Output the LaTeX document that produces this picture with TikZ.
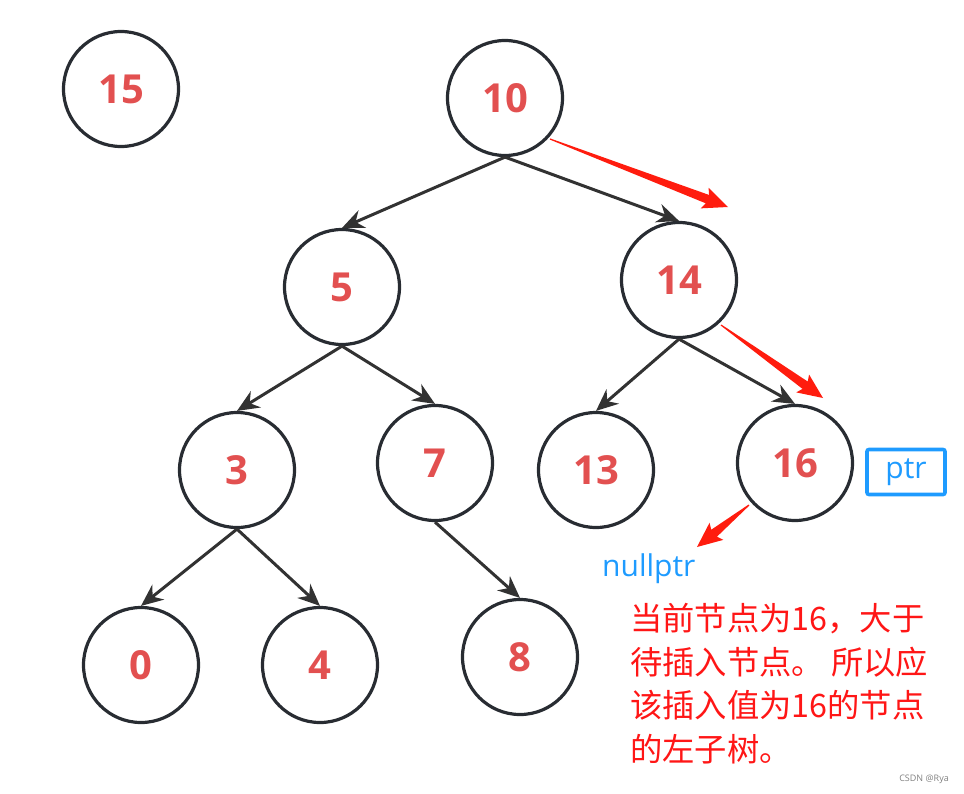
\documentclass[tikz,border=0pt]{standalone}
\usepackage{fontspec}
\setmainfont{Open Sans}
\newfontfamily\cjk{Noto Sans CJK SC}
\usetikzlibrary{arrows.meta,calc}
\definecolor{numred}{RGB}{226,80,80}
\definecolor{arrred}{RGB}{255,28,14}
\definecolor{txtred}{RGB}{255,22,22}
\definecolor{ptrblue}{RGB}{30,155,255}
\definecolor{ringgray}{RGB}{40,44,50}
\definecolor{edgegray}{RGB}{50,50,50}
\tikzset{
  tnode/.style={circle,draw=ringgray,line width=3.2pt,minimum size=115pt,inner sep=0pt,
    font=\fontsize{40}{40}\selectfont\bfseries,text=numred},
  tedge/.style={draw=edgegray,line width=3pt,-{Stealth[length=22pt,width=19pt]}},
}
\newcommand{\redarrow}[2]{%
  \fill[arrred]
    ($(#1)!0.6pt!90:(#2)$) --
    ($($(#2)!22pt!(#1)$)!4.5pt!90:(#2)$) --
    ($($(#2)!25pt!(#1)$)!11pt!90:(#2)$) --
    (#2) --
    ($($(#2)!25pt!(#1)$)!11pt!-90:(#2)$) --
    ($($(#2)!22pt!(#1)$)!4.5pt!-90:(#2)$) --
    ($(#1)!0.6pt!-90:(#2)$) -- cycle;}
\begin{document}
\begin{tikzpicture}[x=1pt,y=-1pt]
\useasboundingbox (0,0) rectangle (964,793);
\node[tnode] (n15) at (121,89) {15};
\node[tnode] (n10) at (505,98) {10};
\node[tnode] (n5) at (342,287) {5};
\node[tnode] (n14) at (679,280) {14};
\node[tnode] (n3) at (237,470) {3};
\node[tnode] (n7) at (435,463) {7};
\node[tnode] (n13) at (596,470) {13};
\node[tnode] (n16) at (795,463) {16};
\node[tnode] (n0) at (141,665) {0};
\node[tnode] (n4) at (320,665) {4};
\node[tnode] (n8) at (520,657) {8};
\draw[tedge] (n10.south) -- (n5.north);
\draw[tedge] (n10.south) -- (n14.north);
\draw[tedge] (n5.south) -- (n3.north);
\draw[tedge] (n5.south) -- (n7.north);
\draw[tedge] (n14.south) -- (n13.north);
\draw[tedge] (n14.south) -- (n16.north);
\draw[tedge] (n3.south) -- (n0.north);
\draw[tedge] (n3.south) -- (n4.north);
\draw[tedge] (n7.south) -- (n8.north);
\coordinate (a1s) at (550,139);
\coordinate (a1t) at (728,207);
\coordinate (a2s) at (721,325);
\coordinate (a2t) at (823,398);
\coordinate (a3s) at (749,505);
\coordinate (a3t) at (697,547);
\redarrow{a1s}{a1t}
\redarrow{a2s}{a2t}
\redarrow{a3s}{a3t}
\node[draw=ptrblue,line width=3.6pt,rounded corners=2pt,minimum width=78pt,minimum height=45pt,
  inner sep=0pt,text=ptrblue,font=\fontsize{30}{30}\selectfont] (ptr) at (906,472) {ptr};
\node[anchor=base west,inner sep=0pt,text=ptrblue,font=\fontsize{30}{30}\selectfont] (nullptr) at (602,576) {nullptr};
\node[anchor=north west,inner sep=0pt,align=left,text=txtred,
  font=\cjk\fontsize{32.3}{43.5}\selectfont] (note) at (630,603)
  {当前节点为16，大于\\待插入节点。 所以应\\该插入值为16的节点\\的左子树。};
\node[anchor=east,inner sep=0pt,text=gray,font=\fontsize{9}{9}\selectfont] (wm) at (949,779) {CSDN @Rya};
\end{tikzpicture}
\end{document}
